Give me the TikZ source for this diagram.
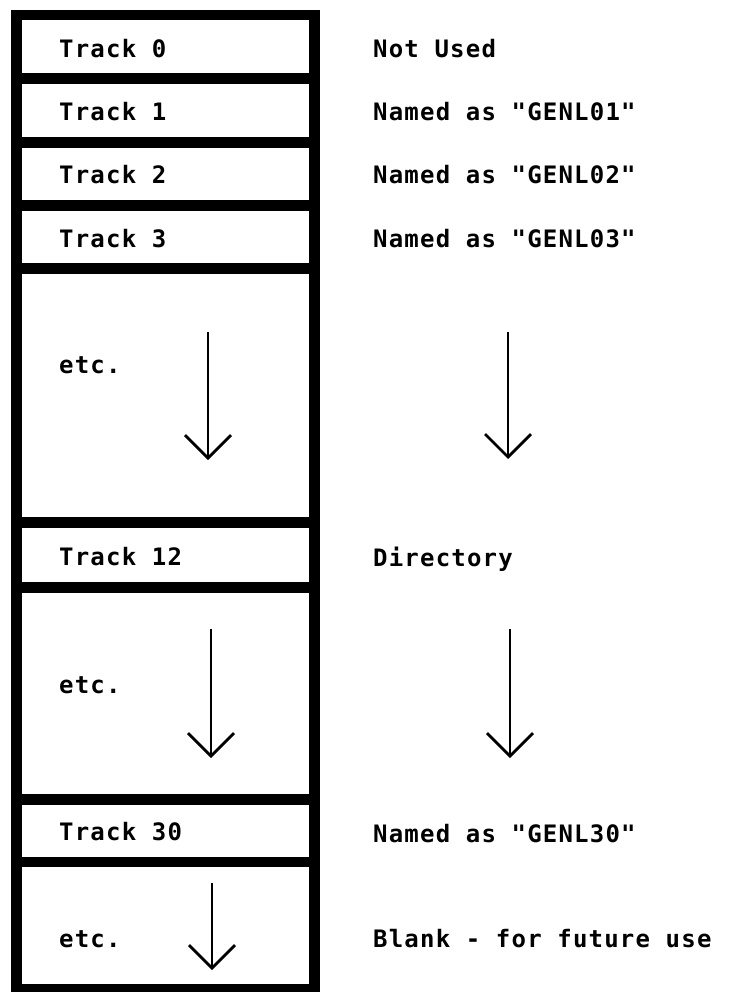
\documentclass[tikz,border=0pt]{standalone}
\usepackage{fontspec}
\newfontfamily\plotfont[LetterSpace=5]{DejaVu Sans Mono Bold}
\usetikzlibrary{arrows.meta,calc}
\begin{document}
\begin{tikzpicture}[x=1pt,y=-1pt,
  slot/.style={fill=white, draw=none, inner sep=0pt, minimum width=287pt, anchor=north west},
  lbl/.style={font=\plotfont\fontsize{24}{24}\selectfont, anchor=base west, inner sep=0pt},
  flow/.style={line width=2.8pt, -{Straight Barb[length=23pt,width=46pt]}}]
\useasboundingbox (0,0) rectangle (736,993);
\fill[white] (0,0) rectangle (736,993);
\fill[black] (11,10) rectangle (320,992);
% slots
\node[slot, minimum height=53pt]  (t0)  at (22,20)  {};
\node[slot, minimum height=53pt]  (t1)  at (22,84)  {};
\node[slot, minimum height=52pt]  (t2)  at (22,148) {};
\node[slot, minimum height=52pt]  (t3)  at (22,211) {};
\node[slot, minimum height=243pt] (e1)  at (22,274) {};
\node[slot, minimum height=54pt]  (t12) at (22,528) {};
\node[slot, minimum height=201pt] (e2)  at (22,593) {};
\node[slot, minimum height=52pt]  (t30) at (22,805) {};
\node[slot, minimum height=117pt] (e3)  at (22,867) {};
% left labels
\node[lbl] (l0)  at (59,57)  {Track 0};
\node[lbl] (l1)  at (59,120) {Track 1};
\node[lbl] (l2)  at (59,183) {Track 2};
\node[lbl] (l3)  at (59,247) {Track 3};
\node[lbl] (le1) at (59,373) {etc.};
\node[lbl] (l12) at (59,565) {Track 12};
\node[lbl] (le2) at (59,693) {etc.};
\node[lbl] (l30) at (59,840) {Track 30};
\node[lbl] (le3) at (59,947) {etc.};
% right labels
\node[lbl] (r0)  at (373,57)  {Not Used};
\node[lbl] (r1)  at (373,120) {Named as "GENL01"};
\node[lbl] (r2)  at (373,183) {Named as "GENL02"};
\node[lbl] (r3)  at (373,247) {Named as "GENL03"};
\node[lbl] (r12) at (373,566) {Directory};
\node[lbl] (r30) at (373,842) {Named as "GENL30"};
\node[lbl] (rb)  at (373,947) {Blank - for future use};
% arrows
\coordinate (a1s) at (208,332); \coordinate (a1e) at (208,460);
\coordinate (a2s) at (211,629); \coordinate (a2e) at (211,758);
\coordinate (a3s) at (212,883); \coordinate (a3e) at (212,970);
\coordinate (b1s) at (508,332); \coordinate (b1e) at (508,459);
\coordinate (b2s) at (510,629); \coordinate (b2e) at (510,758);
\draw[flow] (a1s) -- (a1e);
\draw[flow] (a2s) -- (a2e);
\draw[flow] (a3s) -- (a3e);
\draw[flow] (b1s) -- (b1e);
\draw[flow] (b2s) -- (b2e);
\end{tikzpicture}
\end{document}
